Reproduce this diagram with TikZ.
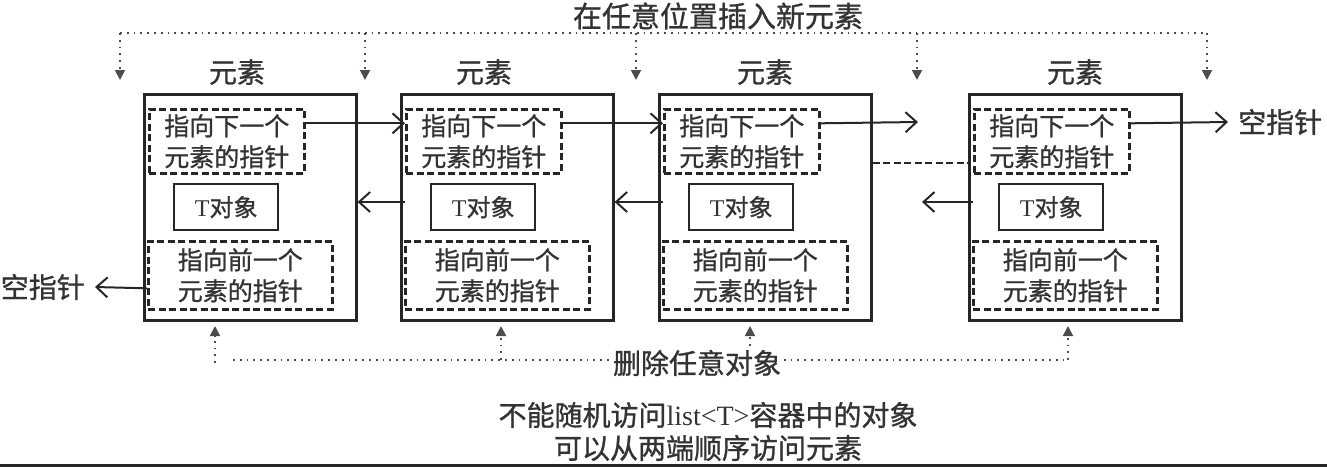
\documentclass[tikz,border=0pt]{standalone}
\usepackage{fontspec}
\setmainfont{Liberation Serif}
\newfontfamily\cjk[FakeBold=1]{Noto Sans CJK SC}
\usetikzlibrary{arrows.meta,calc}
\begin{document}
\begin{tikzpicture}[x=1pt,y=-1pt,
 elem/.style={draw=black!85, line width=2.6pt, minimum width=212pt, minimum height=226pt, anchor=north west, inner sep=0pt},
 ptr/.style={draw=black!85, line width=2.6pt, dash pattern=on 7pt off 3.5pt, inner sep=0pt, align=center, font=\cjk\fontsize{25}{31}\selectfont, text=black!80, anchor=north west},
 obj/.style={draw=black!85, line width=2.4pt, minimum width=104pt, minimum height=46pt, anchor=north west, inner sep=0pt, font=\fontsize{24}{28}\selectfont, text=black!80},
 arr/.style={draw=black!85, line width=2pt, -{Straight Barb[length=11pt,width=20pt,line width=2pt]}},
 dots/.style={draw=black!70, line width=1.8pt, dash pattern=on 1.8pt off 5pt},
 darr/.style={dots, -{Triangle[length=10pt,width=10pt]}},
 link/.style={draw=black!85, line width=2.2pt, dash pattern=on 7pt off 3.5pt},
 lbl/.style={font=\cjk\fontsize{28}{32}\selectfont, text=black!80, inner sep=0pt},
]
\useasboundingbox (0,0) rectangle (1327,467);

% elements
\foreach \i/\x/\lx in {1/143/237,2/400/484,3/658/765,4/968/1075}{
  \node[elem] (e\i) at (\x,93) {};
  \node[lbl] (l\i) at (\lx,72) {元素};
  \node[ptr, minimum width=155pt, minimum height=64pt] (n\i) at (\x+5,108) {指向下一个\\元素的指针};
  \node[obj] (t\i) at (\x+30,183) {T{\cjk 对象}};
  \node[ptr, minimum width=184pt, minimum height=68pt] (p\i) at (\x+4,240) {指向前一个\\元素的指针};
}

% forward pointers
\coordinate (row) at (0,202);
\coordinate (x3) at (918,122);
\coordinate (x4) at (922,202);
\node[lbl, anchor=west] (nr) at (1238,122) {空指针};
\node[lbl, anchor=east] (nl) at (85,287) {空指针};

\draw[arr] ([yshift=18pt]n1.east) -- ([yshift=18pt]n1.east -| n2.west);
\draw[arr] ([yshift=18pt]n2.east) -- ([yshift=18pt]n2.east -| n3.west);
\draw[arr] ([yshift=18pt]n3.east) -- (x3);
\draw[arr] ([yshift=18pt]n4.east) -- ([xshift=-10pt]nr.west);

% backward pointers
\draw[arr] (n2.west |- row) -- (e1.east |- row);
\draw[arr] (n3.west |- row) -- (e2.east |- row);
\draw[arr] (n4.west |- row) -- (x4);
\draw[arr] ([yshift=-13pt]p1.west) -- ([xshift=10pt]nl.east);

% omitted elements link
\coordinate (mid) at (0,163);
\draw[link] (e3.east |- mid) -- (e4.west |- mid);

% insertion
\node[lbl, font=\cjk\fontsize{29}{32}\selectfont] (ins) at (718,16) {在任意位置插入新元素};
\coordinate (ta) at (120,33);
\coordinate (tb) at (1207,33);
\draw[dots] (ta) -- (tb);
\foreach \k/\tx in {1/120,2/365,3/636,4/917,5/1207}{
  \coordinate (s\k) at (\tx,33);
  \coordinate (f\k) at (\tx,80);
  \draw[darr] (s\k) -- (f\k);
}

% deletion
\coordinate (da) at (233,360);
\coordinate (db) at (1068,360);
\draw[dots] (da) -- (db);
\node[lbl, fill=white, inner sep=2pt] (del) at (697,363) {删除任意对象};
\foreach \k/\tx/\ty in {1/215/363,2/501/360,3/750/346,4/1068/360}{
  \coordinate (u\k) at (\tx,\ty);
  \coordinate (v\k) at (\tx,326);
  \draw[darr] (u\k) -- (v\k);
}

% notes
\node[lbl] (note1) at (708,415) {不能随机访问{\rmfamily list<T>}容器中的对象};
\node[lbl] (note2) at (708,448) {可以从两端顺序访问元素};

\draw[line width=2.5pt, black!85] (0,465.7) -- (1327,465.7);
\end{tikzpicture}
\end{document}
